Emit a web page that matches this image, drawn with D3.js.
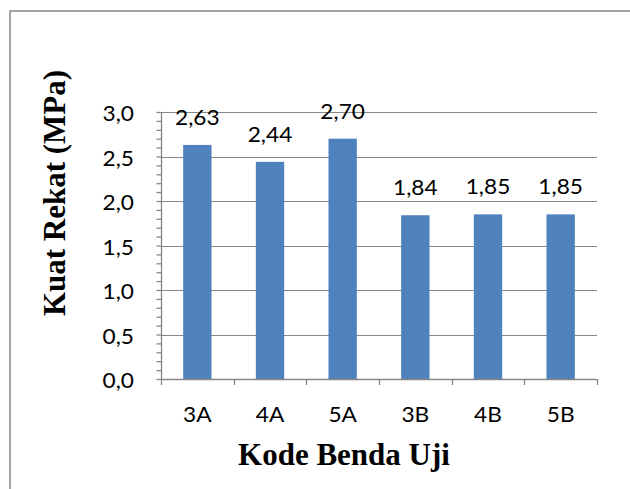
<!DOCTYPE html>
<html><head><meta charset="utf-8">
<script src="https://cdn.jsdelivr.net/npm/d3@7"></script>
<style>body{margin:0;background:#fff}svg{display:block}</style>
</head><body>
<script>
const categories = ["3A","4A","5A","3B","4B","5B"];
const values = [2.63, 2.44, 2.70, 1.84, 1.85, 1.85];
const valueLabels = ["2,63","2,44","2,70","1,84","1,85","1,85"];
const yTicks = [0,0.5,1.0,1.5,2.0,2.5,3.0];
const yTickLabels = ["0,0","0,5","1,0","1,5","2,0","2,5","3,0"];
const yTitle = "Kuat Rekat (MPa)";
const xTitle = "Kode Benda Uji";

(function(){
const W=630,H=489;
const svg=d3.select("body").append("svg").attr("width",W).attr("height",H);
svg.append("rect").attr("x",10).attr("y",11).attr("width",640).attr("height",500)
  .attr("fill","#fff").attr("stroke","#888").attr("stroke-width",1.5);

const pl=161,pr=597,pt=112,pb=379;
const x=d3.scaleBand().domain(categories).range([pl,pr]).paddingInner(0.61).paddingOuter(0.305);
const y=d3.scaleLinear().domain([0,3]).range([pb,pt]);
const axisCol="#878787";
const font="Lato, Carlito, 'Open Sans', sans-serif";
const fs=21, sx=1.08;

// gridlines
svg.append("g").selectAll("line").data(yTicks.filter(d=>d>0)).join("line")
  .attr("x1",pl).attr("x2",pr).attr("y1",d=>Math.round(y(d))+0.5).attr("y2",d=>Math.round(y(d))+0.5)
  .attr("stroke",axisCol).attr("stroke-width",1);

// bars
svg.append("g").selectAll("rect").data(values).join("rect")
  .attr("x",(d,i)=>x(categories[i])).attr("width",x.bandwidth())
  .attr("y",d=>y(d)).attr("height",d=>pb-y(d)).attr("fill","#4F81BD");

// value labels
svg.append("g").selectAll("text").data(values).join("text")
  .attr("transform",(d,i)=>`translate(${x(categories[i])+x.bandwidth()/2},${y(d)-20}) scale(${sx},1)`)
  .attr("text-anchor","middle").attr("font-family",font).attr("font-size",fs).attr("fill","#000")
  .text((d,i)=>valueLabels[i]);

// y axis
const minor=d3.range(0,3.0001,0.1);
const yAxis=d3.axisLeft(y).tickValues(minor).tickSize(5).tickFormat("");
const gy=svg.append("g").attr("transform",`translate(${pl+0.5},0)`).call(yAxis);
gy.selectAll("path,line").attr("stroke",axisCol).attr("stroke-width",1.3);
gy.select(".domain").attr("d",`M0,${pt}V${pb}`);
svg.append("g").selectAll("text").data(yTicks).join("text")
  .attr("transform",d=>`translate(134,${y(d)+9}) scale(${sx},1)`).attr("text-anchor","end")
  .attr("font-family",font).attr("font-size",fs).attr("fill","#000")
  .text((d,i)=>yTickLabels[i]);

// x axis
const bounds=categories.map(c=>x(c)-x.step()*x.paddingInner()/2).concat([pr]);
const gx=svg.append("g");
gx.append("line").attr("x1",pl).attr("x2",pr).attr("y1",pb+0.5).attr("y2",pb+0.5)
  .attr("stroke",axisCol).attr("stroke-width",1.3);
gx.selectAll("line.t").data(bounds).join("line").attr("class","t")
  .attr("x1",d=>Math.round(d)+0.5).attr("x2",d=>Math.round(d)+0.5).attr("y1",pb).attr("y2",pb+6)
  .attr("stroke",axisCol).attr("stroke-width",1.3);
gx.selectAll("text").data(categories).join("text")
  .attr("transform",d=>`translate(${x(d)+x.bandwidth()/2},422) scale(${sx},1)`).attr("text-anchor","middle")
  .attr("font-family",font).attr("font-size",fs).attr("fill","#000").text(d=>d);

// titles
svg.append("text").attr("transform","translate(65,193) rotate(-90)").attr("text-anchor","middle")
  .attr("font-family","'Liberation Serif','Times New Roman',serif").attr("font-weight","bold")
  .attr("font-size",31).text(yTitle);
svg.append("text").attr("x",344).attr("y",465).attr("text-anchor","middle")
  .attr("font-family","'Liberation Serif','Times New Roman',serif").attr("font-weight","bold")
  .attr("font-size",31).text(xTitle);
})();
</script>
</body></html>
